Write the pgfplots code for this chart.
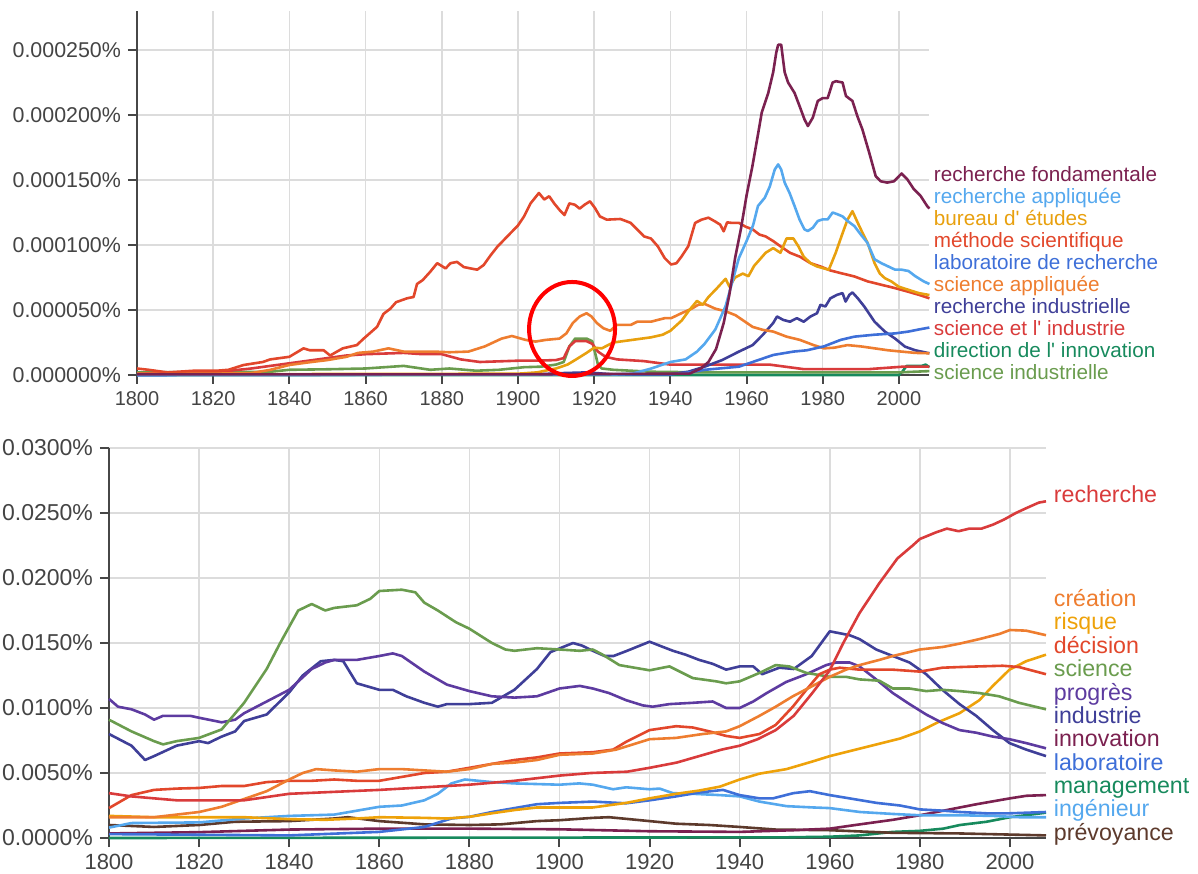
\documentclass[border=0pt]{standalone}
\usepackage{pgfplots}
\pgfplotsset{compat=1.18}
\usepackage{fontspec}
\setmainfont{Liberation Sans}[Ligatures=TeXOff]
\definecolor{gridgray}{HTML}{DCDCDC}
\definecolor{axgray}{HTML}{474747}
\definecolor{lblgray}{HTML}{444444}
\definecolor{cMaroon}{HTML}{7B2150}
\definecolor{cLBlue}{HTML}{55A8EE}
\definecolor{cAmber}{HTML}{E8A00E}
\definecolor{cRedOr}{HTML}{E2472B}
\definecolor{cBlue}{HTML}{3E6FD8}
\definecolor{cOrange}{HTML}{EE7D2F}
\definecolor{cIndigo}{HTML}{3F3F98}
\definecolor{cRed}{HTML}{D93B3B}
\definecolor{cTeal}{HTML}{178A5D}
\definecolor{cOlive}{HTML}{6A9C4E}
\definecolor{cPurple}{HTML}{5D3BA0}
\definecolor{cBrown}{HTML}{5D3A2C}
\definecolor{cRisk}{HTML}{EEA20A}
\pgfplotsset{
  ngram/.style={
    scale only axis, axis x line*=bottom, axis y line*=left,
    xmin=1800, xmax=2008, ymin=0,
    xtick={1800,1820,1840,1860,1880,1900,1920,1940,1960,1980,2000},
    xticklabels={1800,1820,1840,1860,1880,1900,1920,1940,1960,1980,2000},
    grid=major, major grid style={draw=gridgray, line width=0.75pt},
    tick align=outside, major tick length=4.5pt,
    tick style={draw=axgray, line width=1pt},
    axis line style={draw=axgray, line width=1.4pt},
    ticklabel style={text=lblgray},
    every axis plot/.append style={line width=1.3pt, line join=round, mark=none},
    clip=false,
  }
}
\begin{document}
\begin{tikzpicture}
\path[use as bounding box] (0,0) rectangle (599pt,436.5pt);
% ---------------- TOP PANEL ----------------
\begin{axis}[ngram, at={(68.5pt,249pt)}, anchor=south west,
  width=396.2pt, height=182pt, ymax=280,
  ytick={0,50,100,150,200,250},
  yticklabels={0.000000\%,0.000050\%,0.000100\%,0.000150\%,0.000200\%,0.000250\%},
  yticklabel style={font=\fontsize{10.7}{12}\selectfont},
  xticklabel style={font=\fontsize{10}{12}\selectfont}]
% direction de l'innovation
\addplot[cTeal] coordinates {(1800,0)(1900,0)(2000,0)(2001,3)(2002,7)(2006,7)(2007,8)(2008,6)};
% science industrielle
\addplot[cOlive] coordinates {(1800,2)(1835,2.5)(1840,4)(1850,4.4)(1860,5)(1870,7)(1877,4)(1882,5)(1889,3.3)(1895,4)(1901.6,6)(1906,6.4)(1910,8)(1912,10)(1913.5,22)(1915,28)(1918,28)(1919.5,26)(1921,8)(1922,5)(1925,4)(1935,2.5)(1950,2)(2000,2)(2008,3)};
% science et l' industrie
\addplot[cRed] coordinates {(1800,1)(1820,2)(1830,5)(1840,9)(1850,13)(1855,15)(1860,16)(1870,17)(1875,16)(1880,16)(1885,12)(1890,10)(1895,10.5)(1900,11)(1905,11)(1910,11.5)(1912,13)(1913.5,22)(1915,26)(1918,26)(1919.5,24)(1921,18)(1923,14)(1926,12)(1933,10.7)(1940,8)(1948,8)(1966,8)(1975,4.5)(1992,4.5)(2001,6.4)(2008,6.4)};
% recherche industrielle
\addplot[cIndigo] coordinates {(1800,0)(1905,0.5)(1912,1.5)(1918,2)(1925,0.5)(1940,0.5)(1944.7,2.5)(1949,6.4)(1953.6,11.5)(1958,18)(1961.6,23)(1964.3,31)(1967,40)(1968,45)(1969.6,42.4)(1971.4,41)(1973.2,43.7)(1975,41)(1976.8,45)(1978.5,47.5)(1979.4,54)(1980.7,52.7)(1982,59)(1983.8,61.7)(1985.2,63)(1986,56.5)(1987,61.7)(1987.8,63.5)(1989.2,59)(1990.9,52.7)(1993.6,41)(1996.3,33.4)(1999,28)(2001.6,21.8)(2004.3,19)(2008,16.7)};
% science appliquee
\addplot[cOrange] coordinates {(1800,1)(1820,1)(1830,1.5)(1835,4)(1840,7.7)(1845,9.7)(1850,11.5)(1855,14)(1858,17)(1862,18)(1866,20.5)(1870,18)(1874,18)(1878,18)(1882,17.5)(1887,18)(1891.3,22)(1895.7,28)(1898.4,30)(1902,27)(1904.6,25.7)(1907.3,27)(1910.9,28)(1912.7,32)(1914.4,40)(1916.2,45)(1918,47.5)(1919.3,45)(1920.7,40)(1922.4,36)(1924.2,34)(1926,38.5)(1929.6,38.5)(1931.3,41)(1934.9,41)(1938.5,43.7)(1940.2,43.7)(1942.9,47.5)(1945.6,51)(1947.3,54)(1949,54.7)(1951.8,51)(1954.5,49)(1957.1,46)(1958.9,42.4)(1961.6,37)(1964.3,34.7)(1967,33.4)(1970.5,29.5)(1974,27)(1977.6,23)(1980.3,20.5)(1983,21)(1986.5,23)(1990,22)(1993.6,20.5)(1997.2,19)(2000.7,18)(2004.3,17)(2008,16.7)};
% laboratoire de recherche
\addplot[cBlue] coordinates {(1800,0)(1940,0.5)(1945,2)(1949,4)(1958,6.4)(1961.6,10)(1967,15.4)(1972.3,18)(1975.8,19)(1980.3,22)(1984.7,27)(1988.3,29.5)(1993.6,31)(1999,32)(2002.5,33.4)(2005.2,35)(2008,36.5)};
% methode scientifique
\addplot[cRedOr] coordinates {(1800,5)(1803,4)(1808,2)(1815,3.3)(1821,3.3)(1824,4)(1828,7.7)(1833,10)(1835,12)(1840,14)(1843.7,20.5)(1845.4,19)(1849,19)(1850.7,15)(1854,20.5)(1857.7,23)(1859.5,28)(1863,37)(1864.7,47)(1866.5,51)(1868,56)(1870.9,59)(1872.6,60)(1873.5,70)(1875,73)(1877,79.5)(1878.8,86)(1881,82)(1882.3,86)(1884,87)(1885.8,83)(1889.3,81)(1891,84.6)(1892.8,92)(1894.6,98.7)(1898,109)(1900,115)(1901.6,122)(1903.3,132)(1905.5,140)(1906.9,135)(1908.2,137.5)(1909.5,132)(1910.9,127)(1912.2,123)(1913.5,132)(1914.9,131)(1916.2,128)(1917.5,131)(1918.9,133.6)(1920.2,128.5)(1921.5,122)(1923.3,119.5)(1926.9,120)(1929.6,117)(1931.3,112)(1933.1,106.6)(1934.9,105)(1936.7,99)(1938.5,90)(1940.2,85)(1941.6,86)(1942.9,91)(1944.7,99)(1946.5,117)(1948.2,119.5)(1950,121)(1951.8,118)(1953.1,115.6)(1954,110.5)(1954.9,117.4)(1956.2,117)(1958,117)(1959.8,114)(1961.6,112)(1963.4,108)(1965,106.6)(1967,103)(1968.9,99)(1971.4,94)(1974,91)(1976.8,86)(1979.4,83.5)(1982,80.4)(1984.7,78.4)(1988.3,75.8)(1991.8,72)(1995.4,69.4)(1999,66.8)(2002.5,64)(2005.2,61.7)(2008,59)};
% bureau d' etudes
\addplot[cAmber] coordinates {(1800,0.5)(1900,1)(1905,2)(1910,5)(1913,8)(1915,11.5)(1918,17)(1920,21)(1922,20.5)(1925,25)(1930,27)(1935,29)(1938,31)(1940,34)(1943,42)(1945,50)(1947,57)(1948.5,54)(1950,60)(1952,66)(1954.5,74)(1955.5,68)(1957,75)(1959,78)(1960.5,76)(1962,84)(1963.4,88.6)(1965,94)(1967,97.6)(1968.9,94)(1970.5,105)(1972.3,105)(1973.6,99)(1975,91)(1976.8,86)(1978.5,83.5)(1980.3,82)(1981.6,81)(1983.4,94)(1985.2,109)(1986.5,119.5)(1987.8,126)(1989.2,117)(1990.5,109)(1991.8,101.5)(1993.6,86)(1995,78)(1996.3,74.5)(1998,72)(1999.9,68)(2002.5,65.5)(2005.2,63)(2008,61.5)};
% recherche appliquee
\addplot[cLBlue] coordinates {(1800,0)(1925,0.5)(1930,1)(1935,5)(1940,10)(1944,12)(1947,18)(1949,24)(1951.8,35)(1954.5,53)(1956.2,71)(1958,90)(1960,103)(1961.7,115)(1963,130)(1964.8,136.4)(1966.1,145)(1967.4,158)(1968.3,162)(1969.1,158)(1970,148)(1971.3,140)(1972.6,130)(1973.9,119.7)(1975.2,112)(1976.1,110.8)(1977.4,113.3)(1978.7,118.5)(1980,119.7)(1981.3,119.7)(1982.6,125)(1983.9,123.6)(1985.2,122)(1986.5,118.5)(1988.3,114.6)(1990,108)(1991.7,101.8)(1993.6,89)(1995.4,86)(1997.2,83.5)(1999,81)(2000.7,81)(2002.5,80)(2004.3,76)(2006.5,72)(2008,70)};
% recherche fondamentale
\addplot[cMaroon] coordinates {(1800,0.5)(1900,0.5)(1940,1)(1945,1)(1948,5)(1950,10)(1952,20)(1954,40)(1955.5,62)(1957,90)(1958.5,112)(1960,138)(1961.5,160)(1963,185)(1964,202)(1965.7,217)(1967,233)(1967.8,248)(1968.3,254)(1969.1,254)(1970,233)(1970.9,225)(1972.6,217)(1973.9,207)(1975.2,196.7)(1976.1,191.5)(1977.4,198)(1978.7,210.8)(1980,213)(1981.3,213)(1982.6,225)(1983.5,226)(1985.2,225)(1986.1,214.6)(1987.8,210.8)(1989.1,199)(1990.4,189)(1992.2,171)(1993.9,153)(1995.2,149)(1996.9,148)(1998.7,149)(2000.7,155)(2002.2,150.5)(2003.9,143)(2005.7,137.7)(2007.4,130)(2008,128)};
\draw[draw=red, line width=2pt] (axis cs:1914.2,35.4) ellipse [x radius=21.5pt, y radius=23.5pt];
\end{axis}
\begin{scope}[every node/.style={anchor=base west, inner sep=0pt, font=\fontsize{10.35}{12}\selectfont}]
\node[text=cMaroon] at (466.75pt,345.5pt) {recherche fondamentale};
\node[text=cLBlue] at (466.75pt,334.5pt) {recherche appliquée};
\node[text=cAmber] at (466.75pt,323.5pt) {bureau d' études};
\node[text=cRedOr] at (466.75pt,312.5pt) {méthode scientifique};
\node[text=cBlue] at (466.75pt,301.5pt) {laboratoire de recherche};
\node[text=cOrange] at (466.75pt,290.5pt) {science appliquée};
\node[text=cIndigo] at (466.75pt,279.5pt) {recherche industrielle};
\node[text=cRed] at (466.75pt,268.5pt) {science et l' industrie};
\node[text=cTeal] at (466.75pt,257.5pt) {direction de l' innovation};
\node[text=cOlive] at (466.75pt,246.5pt) {science industrielle};
\end{scope}
% ---------------- BOTTOM PANEL ----------------
\begin{axis}[ngram, at={(54.5pt,17.5pt)}, anchor=south west,
  width=468.5pt, height=195pt, ymax=30,
  ytick={0,5,10,15,20,25,30},
  yticklabels={0.0000\%,0.0050\%,0.0100\%,0.0150\%,0.0200\%,0.0250\%,0.0300\%},
  yticklabel style={font=\fontsize{11.5}{13}\selectfont},
  xticklabel style={font=\fontsize{11}{13}\selectfont}]
% management
\addplot[cTeal] coordinates {(1800,0)(1950,0.05)(1960,0.1)(1966.7,0.2)(1974,0.47)(1980,0.55)(1985.2,0.72)(1988.9,1.0)(1994.8,1.25)(2000,1.6)(2008,1.95)};
% prevoyance
\addplot[cBrown] coordinates {(1800,1.0)(1810,0.85)(1820,1.0)(1828,1.25)(1840,1.3)(1850,1.5)(1853,1.6)(1860,1.3)(1870,1.05)(1880,1.0)(1887,1.05)(1895,1.3)(1900,1.37)(1907.4,1.55)(1911,1.6)(1920,1.3)(1925.9,1.1)(1933.3,1.0)(1940,0.85)(1948,0.65)(1960,0.6)(1974,0.4)(1988.9,0.35)(2008,0.2)};
% innovation
\addplot[cMaroon] coordinates {(1800,0.35)(1820,0.45)(1840,0.65)(1860,0.72)(1880,0.72)(1900,0.67)(1920,0.52)(1940,0.47)(1952,0.6)(1960,0.72)(1966.7,1.05)(1974,1.4)(1980,1.75)(1985.2,2.1)(1992.6,2.6)(2000,3.05)(2003.7,3.25)(2008,3.3)};
% ingenieur
\addplot[cLBlue] coordinates {(1800,0.8)(1805,1.15)(1820,1.2)(1830,1.5)(1840,1.7)(1850,1.8)(1855,2.1)(1860,2.4)(1865,2.5)(1870,2.9)(1873,3.4)(1876,4.2)(1879,4.5)(1885,4.3)(1890,4.2)(1900,4.1)(1904.4,4.2)(1907.4,4.1)(1911.9,3.75)(1914.8,3.9)(1920,3.75)(1922.2,3.8)(1925.2,3.45)(1929.6,3.4)(1935.6,3.3)(1940,3.2)(1944.4,2.8)(1950.4,2.45)(1956.3,2.35)(1960,2.3)(1966.7,2.0)(1974,1.85)(1980,1.75)(1988.9,1.75)(1996.3,1.7)(2002,1.6)(2008,1.6)};
% laboratoire
\addplot[cBlue] coordinates {(1800,0.3)(1840,0.2)(1860,0.47)(1870,0.85)(1876,1.5)(1880,1.63)(1885,2.0)(1890,2.3)(1895,2.6)(1900,2.7)(1907.4,2.8)(1914.8,2.67)(1920,2.9)(1925.9,3.2)(1931,3.5)(1936.3,3.7)(1940,3.3)(1944.4,3.05)(1947.4,3.05)(1951.9,3.45)(1955.6,3.6)(1960,3.3)(1965.2,3.0)(1970.4,2.7)(1975.6,2.5)(1980,2.2)(1985.2,2.1)(1988.9,2.0)(1994.8,1.9)(2000,1.9)(2008,2.0)};
% risque
\addplot[cRisk] coordinates {(1800,1.7)(1810,1.6)(1830,1.6)(1840,1.45)(1848,1.4)(1855,1.5)(1860,1.6)(1870,1.55)(1875,1.5)(1880,1.63)(1885,1.9)(1890,2.15)(1895,2.35)(1900,2.35)(1907.4,2.35)(1914.8,2.7)(1920,3.05)(1925.9,3.4)(1931,3.65)(1935.6,3.95)(1940,4.5)(1944.4,4.95)(1950.4,5.3)(1956.3,5.9)(1960,6.3)(1965.2,6.75)(1970.4,7.2)(1975.6,7.65)(1980,8.2)(1984,8.9)(1988.8,9.6)(1993.2,10.6)(1996.2,11.7)(1999.9,12.95)(2003.6,13.6)(2008,14.1)};
% industrie
\addplot[cIndigo] coordinates {(1800,8.0)(1805,7.1)(1808,6.0)(1810,6.3)(1815,7.1)(1820,7.45)(1822,7.3)(1825,7.8)(1828,8.2)(1830,9.0)(1835,9.5)(1840,11.2)(1843,12.5)(1847,13.6)(1850,13.7)(1852,13.6)(1855,11.9)(1860,11.4)(1863,11.4)(1866,10.9)(1870,10.4)(1873,10.1)(1875,10.3)(1880,10.3)(1885,10.4)(1890,11.4)(1895,13)(1898,14.3)(1903,15.0)(1905,14.8)(1907.4,14.4)(1910,14.0)(1912,14.0)(1915,14.4)(1920,15.1)(1922.2,14.8)(1925.2,14.4)(1928,14.1)(1931,13.7)(1934,13.4)(1937,12.95)(1940,13.2)(1943,13.2)(1945,12.6)(1948.8,13.1)(1952,13.0)(1956,14)(1960,15.9)(1964.4,15.6)(1966.6,15.3)(1970.3,14.5)(1974,14)(1977.7,13.5)(1981.4,12.6)(1985,11.4)(1988.8,10.3)(1992.5,9.4)(1996.2,8.3)(1999.9,7.3)(2003.6,6.8)(2008,6.3)};
% progres
\addplot[cPurple] coordinates {(1800,10.7)(1802,10.1)(1805,9.9)(1808,9.5)(1810,9.1)(1812,9.4)(1818,9.4)(1820,9.25)(1825,8.9)(1828,9.1)(1830,9.6)(1835,10.5)(1840,11.4)(1845,13)(1848,13.5)(1850,13.7)(1855,13.7)(1860,14.0)(1863,14.2)(1865,14.0)(1870,12.8)(1875,11.8)(1880,11.3)(1885,10.9)(1890,10.8)(1895,10.9)(1900,11.5)(1904.5,11.7)(1907.4,11.5)(1911,11.15)(1914.8,10.6)(1918.5,10.2)(1920.7,10.1)(1924.4,10.3)(1929.6,10.4)(1934,10.5)(1937,10)(1940,10)(1943,10.5)(1946,11.15)(1950.3,12)(1954.8,12.6)(1959.2,13.3)(1961.4,13.5)(1964.4,13.5)(1966.6,13.2)(1970.3,12.2)(1974,11.15)(1977.7,10.3)(1981.4,9.5)(1985,8.85)(1988.8,8.3)(1992.5,8.1)(1996.2,7.8)(1999.9,7.6)(2003.6,7.3)(2008,6.9)};
% science
\addplot[cOlive] coordinates {(1800,9.1)(1805,8.2)(1810,7.45)(1812,7.2)(1815,7.45)(1820,7.7)(1825,8.35)(1830,10.4)(1835,13)(1838,15)(1842,17.5)(1845,18)(1848,17.5)(1850,17.7)(1855,17.9)(1858,18.4)(1860,19)(1865,19.1)(1868,18.9)(1870,18.1)(1873,17.5)(1877,16.6)(1880,16.1)(1885,15)(1888,14.5)(1890,14.4)(1895,14.6)(1900,14.5)(1904.5,14.4)(1907.4,14.5)(1909.6,14.1)(1913.3,13.3)(1920,12.9)(1924.4,13.2)(1929.6,12.3)(1934.8,12.05)(1937,11.9)(1940,12.05)(1944.4,12.7)(1948,13.3)(1951,13.2)(1954.8,12.7)(1960,12.4)(1963.6,12.4)(1966.6,12.2)(1971,12.1)(1974,11.5)(1977.7,11.5)(1981.4,11.3)(1985,11.4)(1988.8,11.3)(1993.2,11.15)(1997.6,10.9)(2002,10.4)(2008,9.9)};
% decision
\addplot[cRedOr] coordinates {(1800,2.3)(1805,3.3)(1810,3.7)(1815,3.8)(1820,3.85)(1825,4.0)(1830,4.0)(1835,4.3)(1840,4.4)(1845,4.4)(1850,4.5)(1855,4.4)(1860,4.4)(1865,4.7)(1870,5.0)(1875,5.1)(1880,5.4)(1885,5.7)(1890,6.0)(1895,6.2)(1900,6.5)(1907.4,6.6)(1911.9,6.8)(1914.8,7.4)(1920,8.3)(1925.9,8.6)(1929.6,8.5)(1933.3,8.2)(1937,7.85)(1940,7.7)(1944.4,8.0)(1948,8.7)(1951.8,10.1)(1954.8,11.4)(1957.7,12.6)(1960,12.95)(1962.2,13.1)(1966.6,12.95)(1974,12.95)(1980,12.8)(1985,13.1)(1988.8,13.15)(1993.2,13.2)(1998.4,13.25)(2002,13.15)(2008,12.6)};
% creation
\addplot[cOrange] coordinates {(1800,1.6)(1810,1.6)(1815,1.8)(1820,2.0)(1825,2.4)(1830,3.0)(1835,3.6)(1840,4.5)(1843,5.0)(1846,5.3)(1850,5.2)(1855,5.1)(1860,5.3)(1865,5.3)(1870,5.2)(1875,5.1)(1880,5.3)(1885,5.7)(1890,5.8)(1895,6.0)(1900,6.4)(1907.4,6.5)(1912.6,6.8)(1920,7.6)(1925.9,7.7)(1931.8,8.0)(1937,8.2)(1940,8.6)(1944.4,9.4)(1948,10.1)(1951.8,10.9)(1956.2,11.7)(1960,12.4)(1963.6,12.95)(1966.6,13.3)(1971,13.7)(1974,14.0)(1980,14.5)(1985.2,14.7)(1988.8,14.95)(1993.2,15.3)(1997.7,15.7)(2000,16.0)(2003.6,15.95)(2008,15.6)};
% recherche
\addplot[cRed] coordinates {(1800,3.45)(1805,3.2)(1815,2.9)(1830,2.9)(1840,3.4)(1860,3.7)(1880,4.1)(1890,4.4)(1900,4.8)(1907,5.0)(1915,5.1)(1920,5.4)(1926,5.8)(1931,6.3)(1936,6.8)(1940,7.1)(1944,7.6)(1948,8.3)(1952,9.4)(1956,11.1)(1960,12.9)(1963,15)(1966.6,17.3)(1971,19.6)(1975,21.5)(1978.4,22.5)(1980,23)(1983.5,23.5)(1986,23.8)(1988.6,23.6)(1991,23.8)(1993.7,23.8)(1996.2,24.1)(1998.7,24.5)(2001.3,25.0)(2003.8,25.4)(2006.4,25.8)(2008,25.9)};
\end{axis}
\begin{scope}[every node/.style={anchor=base west, inner sep=0pt, font=\fontsize{11.6}{13}\selectfont}]
\node[text=cRed] at (526.75pt,185.15pt) {recherche};
\node[text=cOrange] at (526.75pt,133.15pt) {création};
\node[text=cRisk] at (526.75pt,121.5pt) {risque};
\node[text=cRedOr] at (526.75pt,109.85pt) {décision};
\node[text=cOlive] at (526.75pt,98.15pt) {science};
\node[text=cPurple] at (526.75pt,86.5pt) {progrès};
\node[text=cIndigo] at (526.75pt,74.85pt) {industrie};
\node[text=cMaroon] at (526.75pt,63.15pt) {innovation};
\node[text=cBlue] at (526.75pt,51.5pt) {laboratoire};
\node[text=cTeal] at (526.75pt,39.85pt) {management};
\node[text=cLBlue] at (526.75pt,28.15pt) {ingénieur};
\node[text=cBrown] at (526.75pt,16.5pt) {prévoyance};
\end{scope}
\end{tikzpicture}
\end{document}
